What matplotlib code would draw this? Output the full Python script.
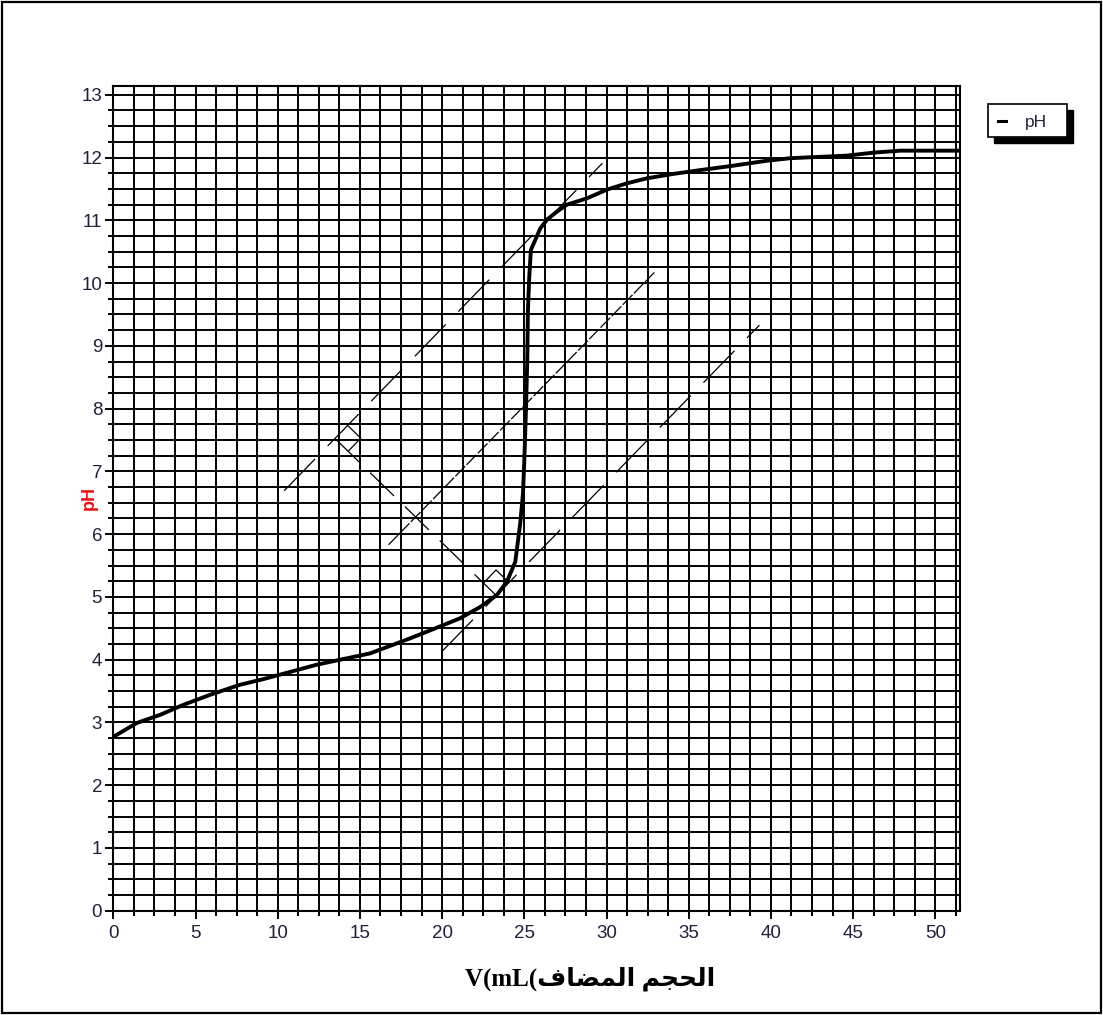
# Titration curve (pH vs added volume) with tangent construction lines
import matplotlib
matplotlib.use('Agg')
import matplotlib.pyplot as plt
from matplotlib.patches import Rectangle
from matplotlib.lines import Line2D
from matplotlib.ticker import MultipleLocator

plt.rcParams['lines.scale_dashes'] = False

# measured curve
volume_ml = [0, 1.42, 2.84, 4.26, 5.89, 7.71, 9.13, 10.55, 12.38, 14.0, 15.62, 17.25,
             18.06, 19.88, 21.1, 22.32, 23.33, 23.94, 24.45, 24.75, 24.92, 25.0, 25.1,
             25.18, 25.22, 25.30, 25.40, 25.67, 25.97, 26.38, 26.99, 27.6, 28.81, 30.03,
             31.25, 32.47, 34.08, 35.7, 37.7, 39.77, 41.2, 44.6, 46.3, 47.9, 51.5]
ph_values = [2.77, 2.99, 3.12, 3.28, 3.44, 3.60, 3.69, 3.79, 3.92, 4.01, 4.10, 4.26,
             4.34, 4.53, 4.66, 4.84, 5.03, 5.24, 5.56, 6.17, 6.65, 7.18, 7.98,
             8.78, 9.57, 10.10, 10.53, 10.69, 10.87, 11.01, 11.14, 11.25, 11.35, 11.49,
             11.59, 11.67, 11.74, 11.80, 11.87, 11.95, 11.99, 12.03, 12.08, 12.11, 12.11]

# tangent method construction
upper_tangent_x = [10.39, 29.75]
upper_tangent_y = [6.69, 11.91]
middle_line_x = [16.74, 32.91]
middle_line_y = [5.83, 10.17]
lower_tangent_x = [19.99, 39.30]
lower_tangent_y = [4.13, 9.33]
perpendicular_x = [13.50, 23.30]
perpendicular_y = [7.52, 5.02]
# right-angle marks (tangent point, corner, perpendicular point)
upper_mark_x = [14.26, 15.05, 14.29]
upper_mark_y = [7.73, 7.53, 7.32]
lower_mark_x = [24.06, 23.28, 22.52]
lower_mark_y = [5.23, 5.43, 5.22]

x_label_unit = "V(mL"
x_label_ar = "الحجم المضاف"
y_label = "pH"
legend_label = "pH"

# simple arabic shaping (presentation forms) for the label
forms = {
    'ا': ('\uFE8D', '\uFE8E', None, None),
    'ل': ('\uFEDD', '\uFEDE', '\uFEDF', '\uFEE0'),
    'ح': ('\uFEA1', '\uFEA2', '\uFEA3', '\uFEA4'),
    'ج': ('\uFE9D', '\uFE9E', '\uFE9F', '\uFEA0'),
    'م': ('\uFEE1', '\uFEE2', '\uFEE3', '\uFEE4'),
    'ض': ('\uFEBD', '\uFEBE', '\uFEBF', '\uFEC0'),
    'ف': ('\uFED1', '\uFED2', '\uFED3', '\uFED4'),
}


def shape_arabic(text):
    out = []
    for i, ch in enumerate(text):
        if ch not in forms:
            out.append(ch)
            continue
        prev = text[i - 1] if i > 0 else ''
        nxt = text[i + 1] if i + 1 < len(text) else ''
        join_prev = prev in forms and forms[prev][2] is not None
        join_next = forms[ch][2] is not None and nxt in forms
        iso, fin, ini, med = forms[ch]
        if join_prev and join_next:
            out.append(med)
        elif join_prev:
            out.append(fin)
        elif join_next:
            out.append(ini)
        else:
            out.append(iso)
    return ''.join(out)[::-1]


W, H = 1103, 1015
fig = plt.figure(figsize=(W / 100, H / 100), dpi=100)
ax = fig.add_axes([113.3 / W, 1 - 910.7 / H, (960 - 113.3) / W, (910.7 - 86) / H])

ax.set_xlim(0, 51.5)
ax.set_ylim(0, 13.14)

ax.xaxis.set_major_locator(MultipleLocator(5))
ax.xaxis.set_minor_locator(MultipleLocator(1.25))
ax.yaxis.set_major_locator(MultipleLocator(1))
ax.yaxis.set_minor_locator(MultipleLocator(0.25))
ax.grid(True, which='both', color='black', linewidth=1.4)
ax.set_axisbelow(True)

tick_color = '#202038'
ax.tick_params(which='major', length=6, width=1.4, color='black', labelsize=13.5,
               labelcolor=tick_color)
ax.tick_params(which='minor', length=3.5, width=1.4, color='black')
ax.tick_params(axis='x', which='major', pad=4)
ax.tick_params(axis='y', which='major', pad=2)
for lab in ax.get_xticklabels() + ax.get_yticklabels():
    lab.set_family('Liberation Sans')
for sp in ax.spines.values():
    sp.set_linewidth(1.5)
    sp.set_color('black')

# construction lines
ax.plot(upper_tangent_x, upper_tangent_y, color='black', lw=0.9, dashes=(32, 13))
ax.plot(lower_tangent_x, lower_tangent_y, color='black', lw=0.9, dashes=(32, 13))
ax.plot(middle_line_x, middle_line_y, color='black', lw=0.9, dashes=(10, 1.5))
ax.plot(perpendicular_x, perpendicular_y, color='black', lw=0.9, dashes=(24, 11))
ax.plot(upper_mark_x, upper_mark_y, color='black', lw=0.9)
ax.plot(lower_mark_x, lower_mark_y, color='black', lw=0.9)

# titration curve
ax.plot(volume_ml, ph_values, color='black', lw=2.8, solid_joinstyle='miter')

# axis labels
x_label = x_label_unit + "(" + shape_arabic(x_label_ar)
fig.text(590 / W, 1 - 979 / H, x_label, ha='center', va='center', fontsize=18,
         fontweight='bold', family=['Liberation Serif', 'DejaVu Sans'])
fig.text(89 / W, 1 - 498 / H, y_label, ha='center', va='center', rotation=90,
         fontsize=13, fontweight='bold', color='#ee1111', family='Liberation Sans')

# legend box with black shadow
fig.add_artist(Rectangle((994 / W, 1 - 143 / H), 79 / W, 33 / H,
                         transform=fig.transFigure, facecolor='black', edgecolor='black'))
fig.add_artist(Rectangle((988 / W, 1 - 137 / H), 79 / W, 33 / H,
                         transform=fig.transFigure, facecolor='white', edgecolor='black',
                         linewidth=1.2))
fig.add_artist(Line2D([998 / W, 1006 / W], [1 - 121 / H, 1 - 121 / H],
                      transform=fig.transFigure, color='black', lw=2.2))
fig.text(1036 / W, 1 - 122 / H, legend_label, ha='center', va='center', fontsize=12.5,
         color=tick_color, family='Liberation Sans')

# outer frame
fig.add_artist(Rectangle((2 / W, 2 / H), (W - 4) / W, (H - 4) / H,
                         transform=fig.transFigure, fill=False, edgecolor='black',
                         linewidth=1.6))

fig.savefig('out.png', dpi=100)
